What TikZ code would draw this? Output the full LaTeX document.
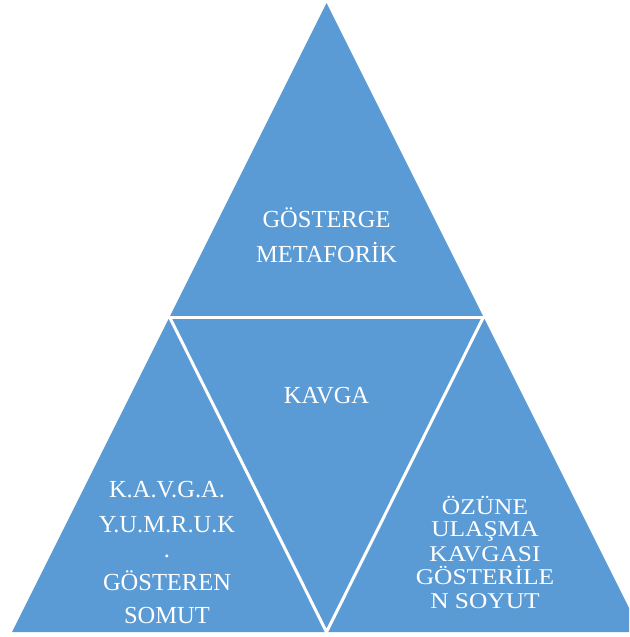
\documentclass[tikz,border=0pt]{standalone}
\usepackage{fontspec}
\setmainfont{Liberation Serif}
\newfontfamily\widefont[FakeStretch=1.13]{Liberation Serif}
\definecolor{tblue}{HTML}{5B9BD5}
\tikzset{
  lbl/.style={text=white, anchor=base, inner sep=0pt, font=\fontsize{24.5}{28}\selectfont},
  lbls/.style={text=white, anchor=base, inner sep=0pt, font=\widefont\fontsize{22.5}{26}\selectfont},
  sep/.style={draw=white, line width=3pt}
}
\begin{document}
\begin{tikzpicture}[x=1pt,y=-1pt]
\useasboundingbox (0,0) rectangle (629,637);
\clip (0,0) rectangle (629,637);
\coordinate (apex) at (326.5,3);
\coordinate (bl) at (12,632);
\coordinate (br) at (641,632);
\coordinate (ml) at (169.5,317);
\coordinate (mr) at (483.5,317);
\coordinate (mb) at (326.5,632);
\coordinate (hl) at (150,317);
\coordinate (hr) at (505,317);
\fill[tblue] (apex) -- (bl) -- (br) -- cycle;
\draw[sep] (hl) -- (hr);
\draw[sep] (ml) -- (mb) -- (mr);
% top
\node[lbl] (t1) at (326.5,227) {GÖSTERGE};
\node[lbl] (t2) at (326.5,262) {METAFORİK};
% middle
\node[lbl] (m1) at (326.5,403) {KAVGA};
% left
\node[lbl] (l1) at (167,497.5) {K.A.V.G.A.};
\node[lbl] (l2) at (167,532) {Y.U.M.R.U.K};
\node[lbl] (l3) at (167,557) {.};
\node[lbl] (l4) at (167,590) {GÖSTEREN};
\node[lbl] (l5) at (167,623) {SOMUT};
% right
\node[lbls] (r1) at (485,514) {ÖZÜNE};
\node[lbls] (r2) at (485,536) {ULAŞMA};
\node[lbls] (r3) at (485,561) {KAVGASI};
\node[lbls] (r4) at (485,584) {GÖSTERİLE};
\node[lbls] (r5) at (485,608) {N SOYUT};
\end{tikzpicture}
\end{document}
